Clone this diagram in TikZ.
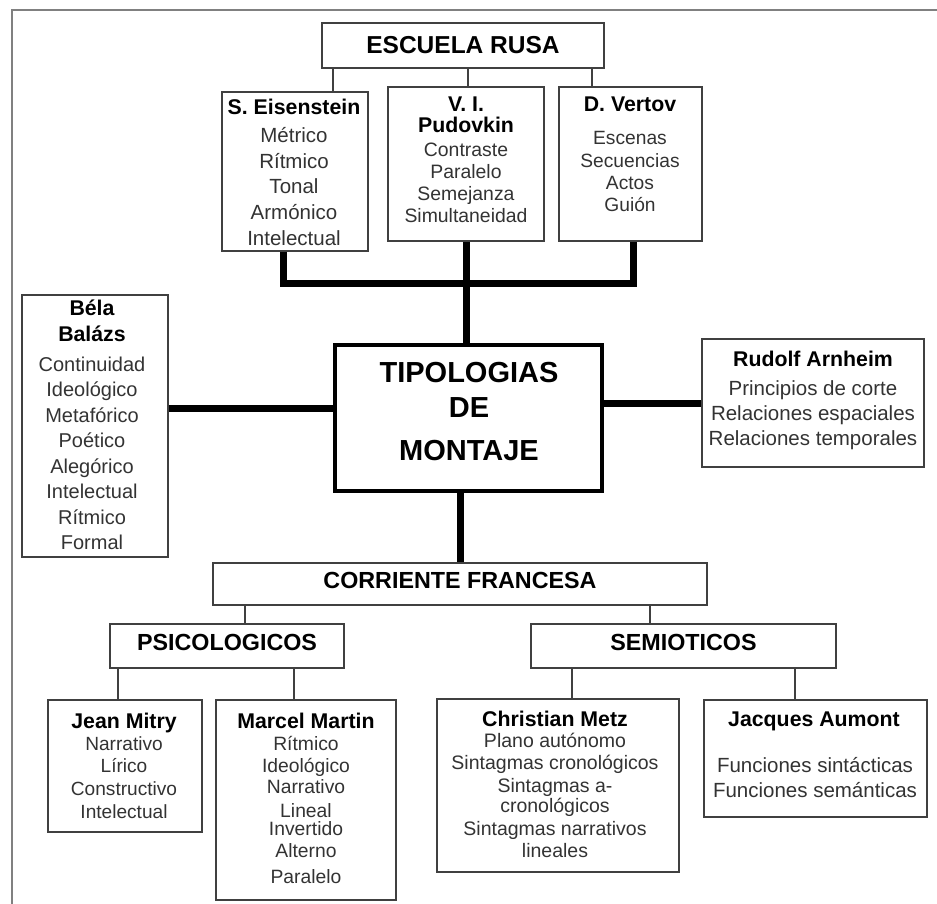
\documentclass[tikz,border=0pt]{standalone}
\usepackage{fontspec}
\setmainfont{Liberation Sans}
\tikzset{
  caja/.style={draw=black!75, line width=1.8pt, fill=white, inner sep=0pt},
  titulo/.style={font=\bfseries\fontsize{23.3}{28}\selectfont},
  grande/.style={anchor=base, inner sep=0pt, font=\bfseries\fontsize{29}{32}\selectfont},
  nombre/.style={anchor=base, inner sep=0pt, font=\bfseries\fontsize{21.3}{25}\selectfont},
  linea/.style={anchor=base, inner sep=0pt, text=black!80, font=\fontsize{#1}{#1}\selectfont},
  linea/.default=20,
  fino/.style={draw=black!75, line width=1.8pt},
  grueso/.style={draw=black, line width=7pt}
}

\begin{document}
\begin{tikzpicture}[x=1pt,y=-1pt]
\useasboundingbox (0,0) rectangle (937,904);
\fill[white] (0,0) rectangle (937,904);
\draw[black!50, line width=2pt] (12,904) -- (12,10) -- (937,10);

% escuela rusa
\node[caja, font=\bfseries\fontsize{24.5}{28}\selectfont, minimum width=282pt, minimum height=45pt] (escuela) at (463,45.5) {ESCUELA RUSA};

\node[caja, minimum width=146pt, minimum height=159pt] (eisen) at (295,171.5) {};
\node[nombre] (eisenN) at (294,115) {S. Eisenstein};
\foreach \t [count=\i from 0] in {Métrico,Rítmico,Tonal,Armónico,Intelectual}
  \node[linea=20.5] (eisen\i) at (294,{143+25.5*\i}) {\t};

\node[caja, minimum width=156pt, minimum height=154pt] (pudov) at (466,164) {};
\node[nombre] (pudovN1) at (466,112) {V. I.};
\node[nombre] (pudovN2) at (466,133) {Pudovkin};
\foreach \t [count=\i from 0] in {Contraste,Paralelo,Semejanza,Simultaneidad}
  \node[linea=19.4] (pudov\i) at (466,{157+21.7*\i}) {\t};

\node[caja, minimum width=143pt, minimum height=154pt] (vertov) at (630.5,164) {};
\node[nombre] (vertovN) at (630,112) {D. Vertov};
\foreach \t [count=\i from 0] in {Escenas,Secuencias,Actos,Guión}
  \node[linea=19.2] (vertov\i) at (630,{145+22.3*\i}) {\t};

\draw[fino] ([xshift=-130pt]escuela.south) -- ([xshift=38pt]eisen.north);
\draw[fino] ([xshift=5pt]escuela.south) -- ([xshift=2pt]pudov.north);
\draw[fino] ([xshift=129pt]escuela.south) -- ([xshift=-38.5pt]vertov.north);

% centro
\node[caja, draw=black, line width=4pt, minimum width=267pt, minimum height=146pt] (tipo) at (468.5,418) {};
\node[grande] (tipo1) at (469,382) {TIPOLOGIAS};
\node[grande] (tipo2) at (469,417) {DE};
\node[grande] (tipo3) at (469,460) {MONTAJE};

\draw[grueso] ([xshift=-12pt]eisen.south) -- ++(0,32) -| ([xshift=2.5pt]vertov.south);
\draw[grueso] (pudov.south) -- (pudov.south |- tipo.north);

% bela balazs
\node[caja, minimum width=146pt, minimum height=262pt] (bela) at (95,426) {};
\node[nombre] (belaN1) at (92,315) {Béla};
\node[nombre] (belaN2) at (92,341) {Balázs};
\foreach \t [count=\i from 0] in {Continuidad,Ideológico,Metafórico,Poético,Alegórico,Intelectual,Rítmico,Formal}
  \node[linea=20] (bela\i) at (92,{371+25.5*\i}) {\t};
\draw[grueso] ([yshift=18pt]bela.east) -- ([yshift=18pt]bela.east -| tipo.west);

% rudolf arnheim
\node[caja, minimum width=222pt, minimum height=128pt] (rudolf) at (813,403) {};
\node[nombre] (rudolfN) at (813,366) {Rudolf Arnheim};
\foreach \t [count=\i from 0] in {Principios de corte,Relaciones espaciales,Relaciones temporales}
  \node[linea=20.5] (rudolf\i) at (813,{395+25*\i}) {\t};
\draw[grueso] (rudolf.west) -- (rudolf.west -| tipo.east);

% corriente francesa
\node[caja, titulo, text depth=7pt, minimum width=494pt, minimum height=42pt] (corriente) at (460,584) {CORRIENTE FRANCESA};
\draw[grueso] ([xshift=-8.5pt]tipo.south) -- ([xshift=-8.5pt]tipo.south |- corriente.north);

\node[caja, titulo, text depth=7pt, minimum width=234pt, minimum height=44pt] (psico) at (227,646) {PSICOLOGICOS};
\node[caja, titulo, text depth=7pt, minimum width=305pt, minimum height=44pt] (semio) at (683.5,646) {SEMIOTICOS};
\draw[fino] ([xshift=-215pt]corriente.south) -- ([xshift=18pt]psico.north);
\draw[fino] ([xshift=190pt]corriente.south) -- ([xshift=-33.5pt]semio.north);

% psicologicos
\node[caja, minimum width=154pt, minimum height=132pt] (mitry) at (125,766) {};
\node[nombre] (mitryN) at (124,728) {Jean Mitry};
\foreach \t [count=\i from 0] in {Narrativo,Lírico,Constructivo,Intelectual}
  \node[linea=19.1] (mitry\i) at (124,{750+22.7*\i}) {\t};

\node[caja, minimum width=180pt, minimum height=200pt] (martin) at (306,800) {};
\node[nombre] (martinN) at (306,728) {Marcel Martin};
\foreach \t/\y [count=\i] in {Rítmico/750,Ideológico/772,Narrativo/793,Lineal/817,Invertido/835,Alterno/857,Paralelo/883}
  \node[linea=19.3] (martin\i) at (306,\y) {\t};

\draw[fino] ([xshift=-109pt]psico.south) -- ([xshift=-7pt]mitry.north);
\draw[fino] ([xshift=67pt]psico.south) -- ([xshift=-12pt]martin.north);

% semioticos
\node[caja, minimum width=242pt, minimum height=173pt] (metz) at (558,785.5) {};
\node[nombre] (metzN) at (555,726) {Christian Metz};
\foreach \t/\y [count=\i] in {Plano autónomo/747,Sintagmas cronológicos/769,Sintagmas a-/792,cronológicos/812,Sintagmas narrativos/835,lineales/857}
  \node[linea=19.5] (metz\i) at (555,\y) {\t};

\node[caja, minimum width=223pt, minimum height=117pt] (aumont) at (815.5,758.5) {};
\node[nombre] (aumontN) at (814,726) {Jacques Aumont};
\node[linea=20.5] (aumont1) at (815,772) {Funciones sintácticas};
\node[linea=20.5] (aumont2) at (815,797) {Funciones semánticas};

\draw[fino] ([xshift=-111.5pt]semio.south) -- ([xshift=14pt]metz.north);
\draw[fino] ([xshift=111.5pt]semio.south) -- ([xshift=-20.5pt]aumont.north);
\end{tikzpicture}
\end{document}
